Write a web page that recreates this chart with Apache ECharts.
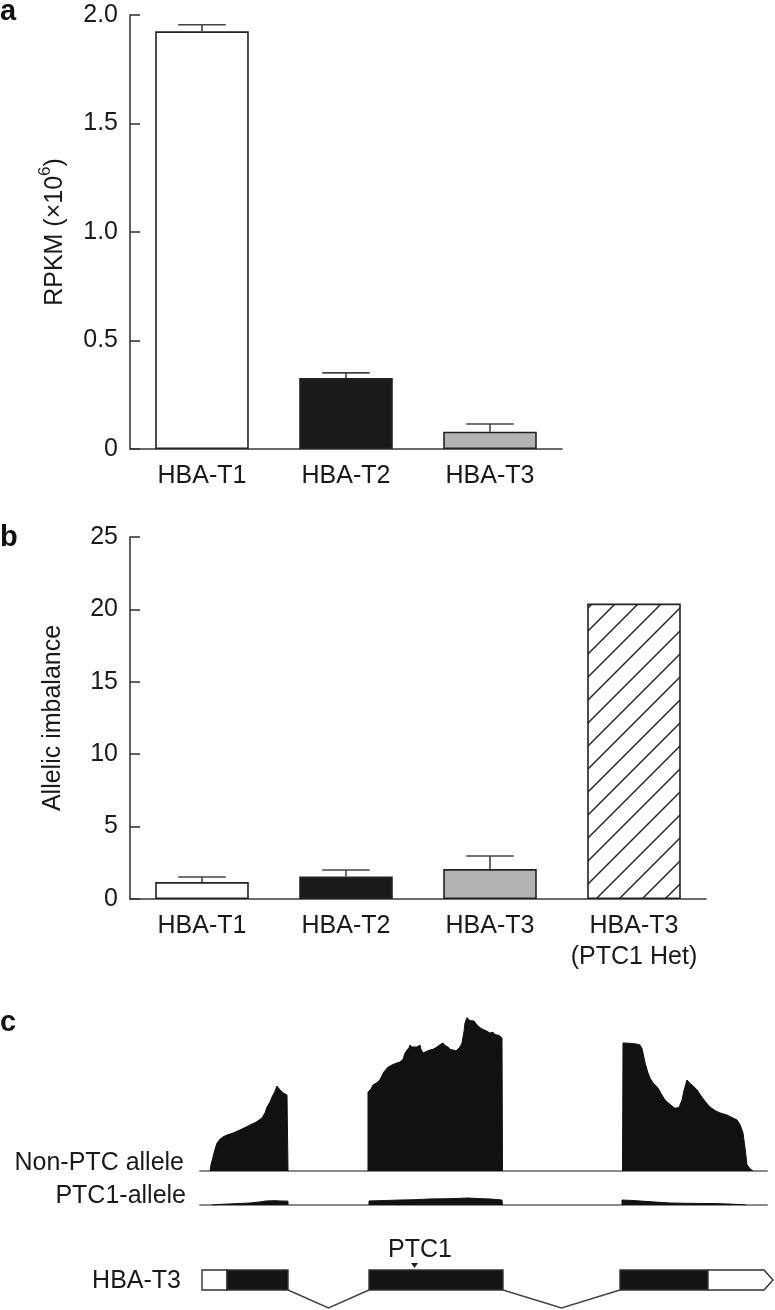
<!DOCTYPE html>
<html>
<head>
<meta charset="utf-8">
<script src="https://cdn.jsdelivr.net/npm/echarts@6/dist/echarts.min.js"></script>
<style>
html,body{margin:0;padding:0;background:#fff;}
#c{width:775px;height:1310px;}
</style>
</head>
<body>
<div id="c"></div>
<script>
// ---------- Data ----------
// Panel a
const catsA = ['HBA-T1', 'HBA-T2', 'HBA-T3'];
const rpkm = [1.925, 0.327, 0.08];
const rpkmErr = [0.03, 0.024, 0.035];
const ticksA = [0, 0.5, 1.0, 1.5, 2.0];

// Panel b
const catsB = ['HBA-T1', 'HBA-T2', 'HBA-T3', 'HBA-T3\n(PTC1 Het)'];
const imbalance = [1.17, 1.55, 2.07, 20.4];
const imbalanceErr = [0.35, 0.45, 0.9, null];
const ticksB = [0, 5, 10, 15, 20, 25];

// Panel c: coverage (relative position, relative read depth)
const nonPtcExon1 = [[10,0],[11,4],[13,9],[15,14],[17,18],[20,20.5],[23,22],[27,23.2],[33,24.5],[40,26.5],[45,28],[50,29.7],[56,31.5],[62,34.2],[65,37.5],[67,41.3],[70,44.5],[72,47.7],[75,51.5],[77,54.8],[79,53],[81,52.3],[83,50.5],[85,50],[87,49],[88,48.5],[88,0]];
const nonPtcExon2 = [[168,0],[168,51],[171,53],[173,55.5],[177,57],[180,59],[182,60],[184,64],[185,65.2],[188,67],[192,68.4],[196,69.5],[200,70.3],[203,72],[205,76],[207,78.1],[209,79.5],[210,81.3],[212,80],[214,79],[217,80],[220,81.3],[221,78.5],[223,76.1],[226,77],[228,76.5],[230,78.1],[233,78.5],[235,79.5],[237,80],[240,81.5],[243,82.6],[245,81],[248,80],[250,78.5],[253,78.1],[256,77.5],[258,78.1],[260,80],[262,82.6],[264,90],[265,95.5],[267,99],[268,100],[270,97],[272,96.1],[274,96.8],[277,94.2],[279,94.5],[281,92],[283,91],[286,90.5],[290,89],[293,89.5],[295,88],[297,89],[299,87.5],[300,86.5],[302,85.8],[302.5,0]];
const nonPtcExon3 = [[422.5,0],[423,82.6],[425,81.5],[427,82.5],[429,81.3],[431,82.3],[433,81.5],[436,82],[440,81.3],[442,79],[443,76.1],[445,70],[448,63.2],[450,60],[453,56.8],[456,55],[458,53.5],[461,50],[465,45.8],[469,43.5],[472,41.9],[475,40.5],[477,39.4],[479,41],[482,45.8],[484,52],[487,58.7],[490,56.5],[493,55],[497,52.3],[501,48.5],[505,45],[510,41.3],[515,39],[520,37.5],[527,36.1],[532,34.5],[537,32.9],[540,30],[543,24.5],[545,15],[547,4],[550,1.5],[553,0]];
const ptcExon1 = [[12,0],[20,0.4],[30,0.7],[40,1.0],[50,1.3],[60,2.0],[66,2.6],[75,2.8],[80,2.6],[88,2.5],[88,0]];
const ptcExon2 = [[169,0],[169,2.6],[180,2.8],[200,3.2],[215,3.4],[230,3.9],[245,4.0],[255,4.2],[268,4.5],[280,4.1],[290,3.9],[302,3.2],[302.5,0]];
const ptcExon3 = [[422,0],[422,3.2],[430,3.0],[440,2.6],[455,1.9],[470,1.3],[485,1.1],[500,1.0],[515,0.9],[530,0.6],[540,0.3],[546,0]];
const trackExtent = [0, 567];

// Gene model: [start, end, kind] kind 0 = 5' UTR, 1 = CDS, 2 = 3' UTR (arrow)
const exons = [[2,27,0],[27,88,1],[169,303,1],[420,508,1],[508,573,2]];
const introns = [[88,169],[303,420]];
const ptcSite = [214.5];

// ---------- Styles ----------
const FONT = '"Liberation Sans", Arial, Helvetica, sans-serif';
const TXT = '#1a1a1a';
const AX = '#3a3a3a';

function hatch() {
  const s = 23;
  const cv = document.createElement('canvas');
  cv.width = s; cv.height = s;
  const g = cv.getContext('2d');
  g.fillStyle = '#fff'; g.fillRect(0,0,s,s);
  g.strokeStyle = '#222'; g.lineWidth = 1.4;
  for (const o of [-s, 0, s]) {
    g.beginPath(); g.moveTo(-2 + o, s + 2); g.lineTo(s + 2 + o, -2); g.stroke();
  }
  return {image: cv, repeat: 'repeat'};
}
const fillsA = ['#ffffff', '#1a1a1a', '#b3b3b3'];
const fillsB = ['#ffffff', '#1a1a1a', '#b3b3b3', hatch()];

function errRender(params, api) {
  const v = api.value(1), e = api.value(2);
  if (e == null || isNaN(e)) return;
  const p0 = api.coord([api.value(0), v]);
  const p1 = api.coord([api.value(0), v + e]);
  const bw = api.size([1, 0])[0];
  const hw = bw * 0.165;
  const st = {stroke: '#444', lineWidth: 1.6};
  return {type: 'group', children: [
    {type: 'line', shape: {x1: p0[0], y1: p0[1], x2: p1[0], y2: p1[1]}, style: st},
    {type: 'line', shape: {x1: p1[0] - hw, y1: p1[1], x2: p1[0] + hw, y2: p1[1]}, style: st}
  ]};
}

function catX(gi, cats) {
  return {type: 'category', gridIndex: gi, data: cats,
    axisLine: {lineStyle: {color: AX, width: 1.6}}, axisTick: {show: false},
    axisLabel: {interval: 0, fontSize: 25, color: TXT, fontFamily: FONT, margin: 12, lineHeight: 31}};
}
function valY(gi, max, interval, name, nameGap, fmt) {
  return {type: 'value', gridIndex: gi, min: 0, max: max, interval: interval,
    name: name, nameLocation: 'middle', nameGap: nameGap, nameRotate: 90,
    nameTextStyle: {fontSize: 25, color: TXT, fontFamily: FONT,
      rich: {n: {fontSize: 25, color: TXT, fontFamily: FONT, verticalAlign: 'bottom', lineHeight: 31},
             s: {fontSize: 17, color: TXT, fontFamily: FONT, verticalAlign: 'top', lineHeight: 31}}},
    axisLine: {show: true, lineStyle: {color: AX, width: 1.6}},
    axisTick: {show: true, inside: true, length: 10, lineStyle: {color: AX, width: 1.6}},
    splitLine: {show: false},
    axisLabel: {fontSize: 25, color: TXT, fontFamily: FONT, margin: 12, formatter: fmt}};
}
function trackX(gi, showLine) {
  return {type: 'value', gridIndex: gi, min: trackExtent[0], max: trackExtent[1],
    axisLine: {show: showLine, onZero: true, lineStyle: {color: '#8a8a8a', width: 2}},
    axisTick: {show: false}, axisLabel: {show: false}, splitLine: {show: false}};
}
function hiddenY(gi, min, max) {
  return {type: 'value', gridIndex: gi, min: min, max: max, show: false, splitLine: {show: false}};
}
function cov(data, xi) {
  return {type: 'line', xAxisIndex: xi, yAxisIndex: xi, data: data, symbol: 'none',
    lineStyle: {color: '#111', width: 1}, areaStyle: {color: '#111', opacity: 1}, silent: true, z: 3};
}

const BOX_H = 10, DIP = 18, TIP = 9;
function exonRender(params, api) {
  const a = api.coord([api.value(0), 0]);
  const b = api.coord([api.value(1), 0]);
  const k = api.value(2);
  const y = a[1];
  const st = {fill: k === 1 ? '#141414' : '#fff', stroke: '#333', lineWidth: 1.4};
  if (k === 2) {
    return {type: 'polygon', shape: {points: [[a[0], y - BOX_H], [b[0] - TIP, y - BOX_H], [b[0], y], [b[0] - TIP, y + BOX_H], [a[0], y + BOX_H]]}, style: st};
  }
  return {type: 'rect', shape: {x: a[0], y: y - BOX_H, width: b[0] - a[0], height: 2 * BOX_H}, style: st};
}
function intronRender(params, api) {
  const a = api.coord([api.value(0), 0]);
  const b = api.coord([api.value(1), 0]);
  const y = a[1] + BOX_H;
  return {type: 'polyline', shape: {points: [[a[0], y], [(a[0] + b[0]) / 2, y + DIP], [b[0], y]]}, style: {stroke: '#444', lineWidth: 1.5, fill: null}};
}
function ptcRender(params, api) {
  const p = api.coord([api.value(0), 0]);
  const ty = p[1] - BOX_H - 2;
  return {type: 'group', children: [
    {type: 'polygon', shape: {points: [[p[0] - 3.5, ty - 5], [p[0] + 3.5, ty - 5], [p[0], ty]]}, style: {fill: '#222'}},
    {type: 'text', x: p[0] + 5.5, y: ty - 18, style: {text: 'PTC1', fontSize: 25, fontFamily: FONT, fill: TXT, align: 'center', verticalAlign: 'middle'}}
  ]};
}

const chart = echarts.init(document.getElementById('c'), null, {renderer: 'canvas'});
const letter = (t, x, y) => ({type: 'text', left: x, top: y, style: {text: t, fontSize: 29, fontWeight: 'bold', fontFamily: FONT, fill: '#111'}});
const lbl = (t, x, y) => ({type: 'text', x: x, y: y, style: {text: t, fontSize: 25, fontFamily: FONT, fill: TXT, align: 'right', verticalAlign: 'middle'}});

chart.setOption({
  animation: false,
  backgroundColor: '#fff',
  graphic: [
    letter('a', 0, -3), letter('b', 0, 523), letter('c', 0, 1008),
    lbl('Non-PTC allele', 184, 1163),
    lbl('PTC1-allele', 186, 1196),
    lbl('HBA-T3', 181, 1281)
  ],
  grid: [
    {left: 130, top: 15, width: 432, height: 434},
    {left: 130, top: 537, width: 576, height: 362},
    {left: 200, top: 1016, width: 567, height: 155},
    {left: 200, top: 1050, width: 567, height: 155},
    {left: 200, top: 1250, width: 567, height: 60}
  ],
  xAxis: [catX(0, catsA), catX(1, catsB), trackX(2, true), trackX(3, true), trackX(4, false)],
  yAxis: [
    valY(0, 2, 0.5, '{n|RPKM (×10}{s|6}{n|)}', 62, v => v === 0 ? '0' : v.toFixed(1)),
    valY(1, 25, 5, 'Allelic imbalance', 64, v => String(v)),
    hiddenY(2, 0, 100), hiddenY(3, 0, 100), hiddenY(4, -1, 1)
  ],
  series: [
    {type: 'bar', xAxisIndex: 0, yAxisIndex: 0, barWidth: '65%',
      data: rpkm.map((v, i) => ({value: v, itemStyle: {color: fillsA[i]}})),
      itemStyle: {borderColor: '#222', borderWidth: 1.6}, silent: true},
    {type: 'custom', xAxisIndex: 0, yAxisIndex: 0, renderItem: errRender, z: 5,
      data: rpkm.map((v, i) => [i, v, rpkmErr[i]])},
    {type: 'bar', xAxisIndex: 1, yAxisIndex: 1, barWidth: '65%',
      data: imbalance.map((v, i) => ({value: v, itemStyle: {color: fillsB[i]}})),
      itemStyle: {borderColor: '#222', borderWidth: 1.6}, silent: true},
    {type: 'custom', xAxisIndex: 1, yAxisIndex: 1, renderItem: errRender, z: 5,
      data: imbalance.map((v, i) => [i, v, imbalanceErr[i] == null ? NaN : imbalanceErr[i]])},
    cov(nonPtcExon1, 2), cov(nonPtcExon2, 2), cov(nonPtcExon3, 2),
    cov(ptcExon1, 3), cov(ptcExon2, 3), cov(ptcExon3, 3),
    {type: 'custom', xAxisIndex: 4, yAxisIndex: 4, renderItem: intronRender, clip: false, data: introns},
    {type: 'custom', xAxisIndex: 4, yAxisIndex: 4, renderItem: exonRender, clip: false, data: exons, z: 4},
    {type: 'custom', xAxisIndex: 4, yAxisIndex: 4, renderItem: ptcRender, clip: false, data: ptcSite.map(v => [v]), z: 5}
  ]
});
</script>
</body>
</html>
